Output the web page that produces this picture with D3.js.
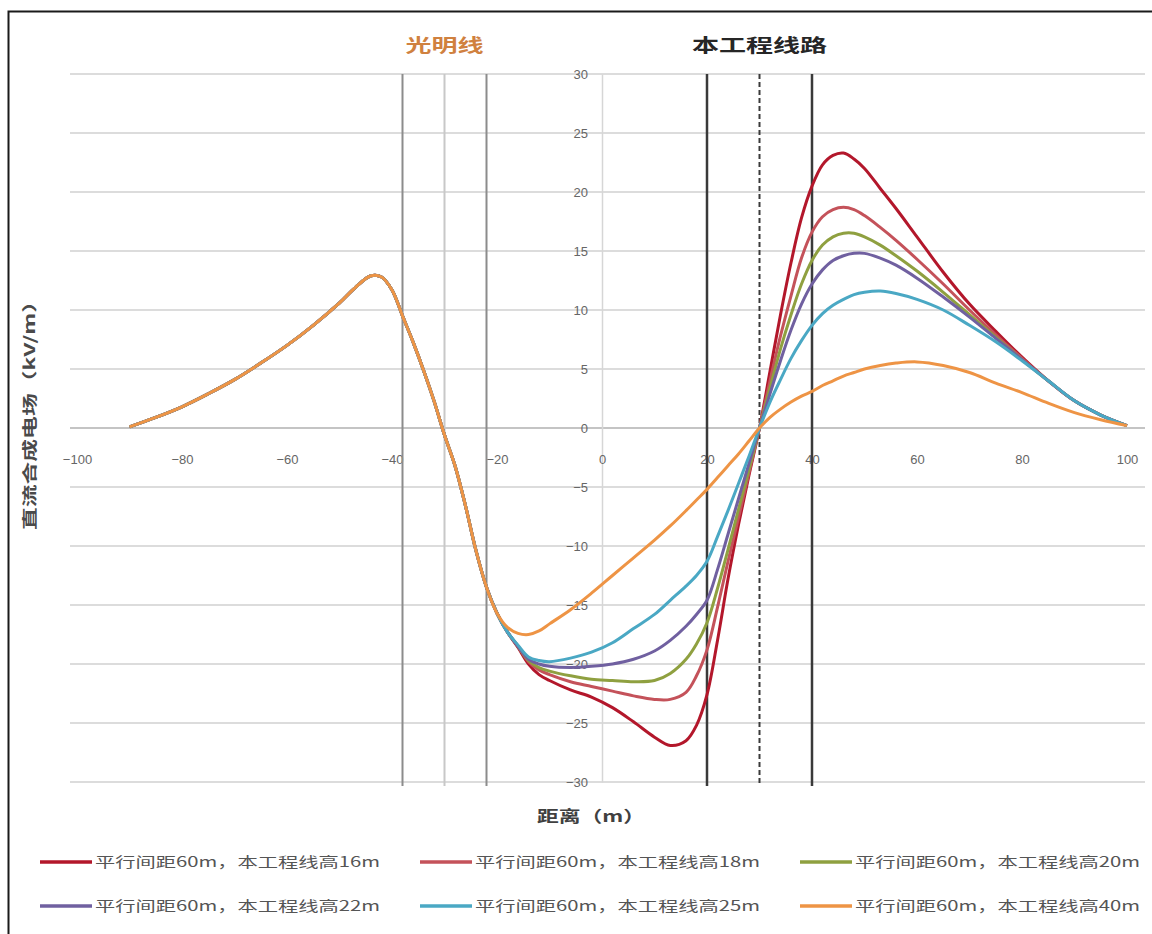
<!DOCTYPE html>
<html>
<head>
<meta charset="utf-8">
<script src="https://cdn.jsdelivr.net/npm/d3@7/dist/d3.min.js"></script>
<style>
  html, body { margin: 0; padding: 0; background: #fff; }
  svg { display: block; font-family: "Noto Sans CJK SC", "Noto Sans", sans-serif; }
</style>
</head>
<body>
<svg id="chart" width="1152" height="934"></svg>
<script>
// Distances (m) shared by every series
const distance = [-90,-85,-80,-75,-70,-65,-60,-55,-50,-47,-44,-42,-40,-38,-36,-34,-32,-30,-28,-26,-24,-22,-20,
  -18,-16,-14,-12,-10,-6,-2,2,6,10,13,16,18,20,22,24,26,28,30,32,34,36,38,40,42,44,46,48,50,53,56,60,65,70,75,80,85,90,95,100];

// Field under the existing 光明线 (identical for all cases, -90 … -20 m)
const sharedLeft = [0.1,0.9,1.8,2.9,4.1,5.5,7.0,8.7,10.6,11.9,12.9,12.8,11.7,9.5,7.3,4.9,2.3,-0.6,-3.2,-6.6,-10.4,-13.5,-15.7];

// Field from -18 m onward for each line height
const h16 = [-17.3,-18.6,-20.0,-20.9,-21.4,-22.2,-22.8,-23.7,-24.9,-26.2,-26.9,-26.5,-25.2,-22.6,-18.0,-12.8,-8.2,-4.0,0,4.8,9.6,14.0,17.8,20.5,22.3,23.1,23.3,22.8,22.0,20.3,18.6,16.2,13.2,10.5,8.2,6.0,4.0,2.3,1.1,0.2];
const h18 = [-17.3,-18.5,-19.8,-20.5,-20.9,-21.5,-21.9,-22.3,-22.7,-23.0,-23.0,-22.4,-21.0,-18.8,-15.2,-11.3,-7.6,-3.8,0,4.0,7.8,11.2,14.4,16.6,17.9,18.5,18.7,18.5,18.0,17.0,15.9,14.3,12.2,10.0,7.9,5.9,4.0,2.3,1.1,0.2];
const h20 = [-17.3,-18.5,-19.7,-20.3,-20.6,-21.0,-21.3,-21.4,-21.5,-21.4,-20.8,-19.6,-18.3,-16.5,-13.6,-10.3,-6.9,-3.5,0,3.4,6.7,9.6,12.2,14.2,15.5,16.2,16.5,16.5,16.2,15.5,14.6,13.3,11.5,9.6,7.7,5.8,4.0,2.3,1.1,0.2];
const h22 = [-17.3,-18.5,-19.6,-20.0,-20.2,-20.3,-20.2,-20.0,-19.6,-18.9,-18.0,-16.8,-15.8,-14.6,-12.0,-9.0,-6.0,-3.0,0,2.9,5.7,8.3,10.5,12.2,13.4,14.2,14.6,14.8,14.8,14.4,13.8,12.7,11.1,9.4,7.6,5.8,4.0,2.3,1.1,0.2];
const h25 = [-17.3,-18.4,-19.4,-19.7,-19.8,-19.5,-19.0,-18.2,-17.0,-15.8,-14.6,-13.4,-12.5,-11.3,-9.2,-7.0,-4.7,-2.4,0,2.2,4.1,5.9,7.4,8.7,9.7,10.4,10.9,11.3,11.5,11.6,11.4,10.9,10.0,8.7,7.3,5.7,4.0,2.3,1.1,0.2];
const h40 = [-16.9,-17.4,-17.5,-17.2,-16.6,-15.4,-14.0,-12.5,-11.0,-9.5,-8.3,-7.0,-6.1,-5.2,-4.2,-3.2,-2.2,-1.1,0,0.9,1.6,2.2,2.7,3.1,3.6,4.0,4.4,4.7,5.0,5.3,5.5,5.6,5.3,4.7,3.8,3.0,2.1,1.3,0.7,0.2];

const seriesNames = [
  "平行间距60m，本工程线高16m",
  "平行间距60m，本工程线高18m",
  "平行间距60m，本工程线高20m",
  "平行间距60m，本工程线高22m",
  "平行间距60m，本工程线高25m",
  "平行间距60m，本工程线高40m"
];
const seriesValues = [h16, h18, h20, h22, h25, h40];
const seriesColors = ["#B3172B", "#C4525A", "#8FA040", "#7060A0", "#4AA8C4", "#EE9445"];

const xTicks = [-100,-80,-60,-40,-20,0,20,40,60,80,100];
const yTicks = [-30,-25,-20,-15,-10,-5,0,5,10,15,20,25,30];

// Conductor positions of the two lines (m)
const guangmingWires = [-38, -22];
const guangmingCenter = -30;
const projectWires = [20, 40];
const projectCenter = 30;

const svg = d3.select("#chart");
const x = d3.scaleLinear().domain([-100, 100]).range([77, 1127]);
const y = d3.scaleLinear().domain([-30, 30]).range([782, 74]);

// outer frame
svg.append("rect").attr("x", 8.5).attr("y", 11.5).attr("width", 1170).attr("height", 960)
  .attr("fill", "none").attr("stroke", "#1a1a1a").attr("stroke-width", 2);

// horizontal gridlines
svg.append("g").selectAll("line").data(yTicks.filter(d => d !== 0)).join("line")
  .attr("x1", x(-100) - 7).attr("x2", x(100) + 18)
  .attr("y1", d => y(d)).attr("y2", d => y(d))
  .attr("stroke", "#dcdcdc").attr("stroke-width", 2);

// zero line (x axis)
svg.append("line").attr("x1", x(-100) - 7).attr("x2", x(100) + 18)
  .attr("y1", y(0)).attr("y2", y(0)).attr("stroke", "#c4c4c4").attr("stroke-width", 2);

// y axis at distance 0
const yAxis = svg.append("g").attr("transform", `translate(${x(0)},0)`)
  .call(d3.axisLeft(y).tickValues(yTicks).tickSize(0).tickPadding(14));
yAxis.select(".domain").attr("stroke", "#d6d6d6").attr("stroke-width", 1.5);
yAxis.selectAll("text").attr("fill", "#666").attr("font-size", 13)
  .attr("font-family", "'Liberation Sans', sans-serif");

// x axis labels
const xAxis = svg.append("g").attr("transform", `translate(0,${y(0)})`)
  .call(d3.axisBottom(x).tickValues(xTicks).tickSize(0).tickPadding(27));
xAxis.select(".domain").remove();
xAxis.selectAll("text").attr("fill", "#666").attr("font-size", 13)
  .attr("font-family", "'Liberation Sans', sans-serif");

// conductor / centre lines
const vLine = (g, d, color, width, dash) => g.append("line")
  .attr("x1", x(d)).attr("x2", x(d)).attr("y1", y(30)).attr("y2", y(-30) + 4)
  .attr("stroke", color).attr("stroke-width", width).attr("stroke-dasharray", dash || null);
const towers = svg.append("g");
guangmingWires.forEach(d => vLine(towers, d, "#8c8c8c", 2));
vLine(towers, guangmingCenter, "#c8c8c8", 2);
projectWires.forEach(d => vLine(towers, d, "#3a3a3a", 2.5));
vLine(towers, projectCenter, "#3a3a3a", 2, "5,3");

// curves
const line = d3.line().x(d => x(d[0])).y(d => y(d[1])).curve(d3.curveCatmullRom.alpha(0.5));
const curves = svg.append("g").attr("fill", "none").attr("stroke-width", 3).attr("stroke-linejoin", "round");
seriesValues.forEach((vals, i) => {
  const ys = sharedLeft.concat(vals);
  const pts = distance.map((d, j) => [d, ys[j]]);
  curves.append("path").attr("d", line(pts)).attr("stroke", seriesColors[i]);
});

// line name labels
svg.append("text").attr("x", x(guangmingCenter)).attr("y", 52).attr("text-anchor", "middle")
  .attr("font-size", 18).attr("font-weight", "bold").attr("fill", "#D0813F")
  .attr("textLength", 78).attr("lengthAdjust", "spacingAndGlyphs").text("光明线");
svg.append("text").attr("x", x(projectCenter)).attr("y", 52).attr("text-anchor", "middle")
  .attr("font-size", 18).attr("font-weight", "bold").attr("fill", "#262626")
  .attr("textLength", 135).attr("lengthAdjust", "spacingAndGlyphs").text("本工程线路");

// axis titles
svg.append("text").attr("x", 591).attr("y", 822).attr("text-anchor", "middle")
  .attr("font-size", 16).attr("font-weight", "bold").attr("fill", "#404040")
  .attr("textLength", 108).attr("lengthAdjust", "spacingAndGlyphs").text("距离（m）");
svg.append("text").attr("transform", "translate(35,410) rotate(-90)").attr("text-anchor", "middle")
  .attr("font-size", 15).attr("font-weight", "bold").attr("fill", "#4a4a4a")
  .attr("textLength", 240).attr("lengthAdjust", "spacingAndGlyphs").text("直流合成电场（kV/m）");

// legend
const legCols = [40, 420, 800];
const legRows = [862, 906];
const legend = svg.append("g");
seriesNames.forEach((name, i) => {
  const cx = legCols[i % 3], cy = legRows[Math.floor(i / 3)];
  legend.append("line").attr("x1", cx).attr("x2", cx + 52).attr("y1", cy).attr("y2", cy)
    .attr("stroke", seriesColors[i]).attr("stroke-width", 3.5);
  legend.append("text").attr("x", cx + 55).attr("y", cy + 5).attr("font-size", 14)
    .attr("fill", "#555").attr("textLength", 285).attr("lengthAdjust", "spacingAndGlyphs").text(name);
});
</script>
</body>
</html>
